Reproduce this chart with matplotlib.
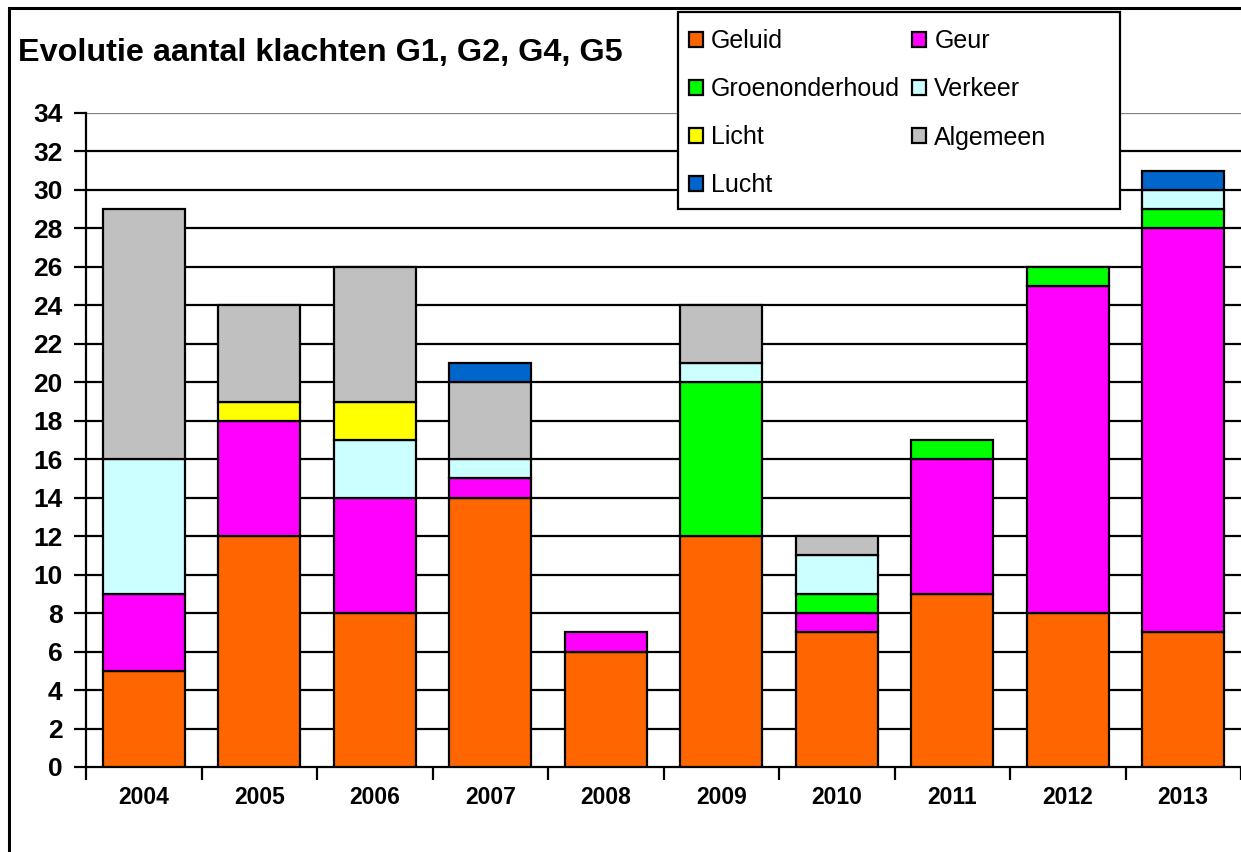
import matplotlib
matplotlib.use('Agg')
import matplotlib.pyplot as plt
import matplotlib.patches as mpatches
import numpy as np

# --- data ---
years = ['2004', '2005', '2006', '2007', '2008', '2009', '2010', '2011', '2012', '2013']
geluid = [5, 12, 8, 14, 6, 12, 7, 9, 8, 7]
geur = [4, 6, 6, 1, 1, 0, 1, 7, 17, 21]
groenonderhoud = [0, 0, 0, 0, 0, 8, 1, 1, 1, 1]
verkeer = [7, 0, 3, 1, 0, 1, 2, 0, 0, 1]
licht = [0, 1, 2, 0, 0, 0, 0, 0, 0, 0]
algemeen = [13, 5, 7, 4, 0, 3, 1, 0, 0, 0]
lucht = [0, 0, 0, 1, 0, 0, 0, 0, 0, 1]

series = [
    ('Geluid', geluid, '#FF6600'),
    ('Geur', geur, '#FF00FF'),
    ('Groenonderhoud', groenonderhoud, '#00FF00'),
    ('Verkeer', verkeer, '#CCFFFF'),
    ('Licht', licht, '#FFFF00'),
    ('Algemeen', algemeen, '#C0C0C0'),
    ('Lucht', lucht, '#0066CC'),
]

plt.rcParams['font.family'] = ['Liberation Sans', 'DejaVu Sans']

W, H = 1241, 852
fig = plt.figure(figsize=(W / 100, H / 100), dpi=100)

# axes placed in pixel terms
left, right, bottom, top = 86, 1241, 767, 113
ax = fig.add_axes([left / W, 1 - bottom / H, (right - left) / W, (bottom - top) / H])

x = np.arange(len(years))
base = np.zeros(len(years))
handles = {}
for name, vals, col in series:
    vals = np.array(vals, dtype=float)
    mask = vals > 0
    ax.bar(x[mask], vals[mask], bottom=base[mask], width=0.71, color=col,
           edgecolor='black', linewidth=1.6, zorder=3)
    handles[name] = mpatches.Patch(facecolor=col, edgecolor='black', linewidth=1.6, label=name)
    base += vals

ax.set_xlim(-0.5, len(years) - 0.5)
ax.set_ylim(0, 34)
yt = np.arange(0, 35, 2)
ax.set_yticks(yt)
for v in yt[1:]:
    ax.axhline(v, color='#808080' if v == 34 else 'black', linewidth=1.6, zorder=1)

ax.spines['top'].set_visible(False)
ax.spines['right'].set_visible(False)
ax.spines['left'].set_linewidth(1.6)
ax.spines['bottom'].set_linewidth(1.6)

ax.set_xticks(x)
ax.set_xticklabels(years, fontsize=16.5, fontweight='bold')
ax.tick_params(axis='x', which='major', length=0, pad=14)
ax.set_xticks(np.arange(-0.5, len(years), 1.0), minor=True)
ax.tick_params(axis='x', which='minor', length=9, width=1.6, direction='out')
ax.tick_params(axis='y', length=9, width=1.6, direction='out', labelsize=19, pad=8)
for t in ax.get_yticklabels():
    t.set_fontweight('bold')

fig.text(18 / W, 1 - 61 / H, 'Evolutie aantal klachten G1, G2, G4, G5',
         fontsize=23.3, fontweight='bold', va='baseline', ha='left')

# legend box (drawn separately, Excel style wider than the entries)
lx0, ly0, lx1, ly1 = 678, 12, 1120, 209
fig.patches.append(mpatches.Rectangle((lx0 / W, 1 - ly1 / H), (lx1 - lx0) / W, (ly1 - ly0) / H,
                                      transform=fig.transFigure, facecolor='white',
                                      edgecolor='black', linewidth=1.6, zorder=4))
order = ['Geluid', 'Groenonderhoud', 'Licht', 'Lucht', 'Geur', 'Verkeer', 'Algemeen']
leg = fig.legend(handles=[handles[n] for n in order], ncol=2, loc='upper left',
                 bbox_to_anchor=((lx0 + 3) / W, 1 - (ly0 + 10) / H), fontsize=18,
                 frameon=False,
                 handlelength=0.58, handleheight=0.58, handletextpad=0.33,
                 columnspacing=0.45, labelspacing=0.96, borderpad=0.3,
                 borderaxespad=0)
leg.set_zorder(5)

# outer chart border (cut off at right and bottom)
fig.patches.append(mpatches.Rectangle((9 / W, -0.1), 1.2, 1.1 - 8 / H,
                                      transform=fig.transFigure, fill=False,
                                      edgecolor='black', linewidth=2.2, zorder=0))

fig.savefig('out.png', dpi=100)
